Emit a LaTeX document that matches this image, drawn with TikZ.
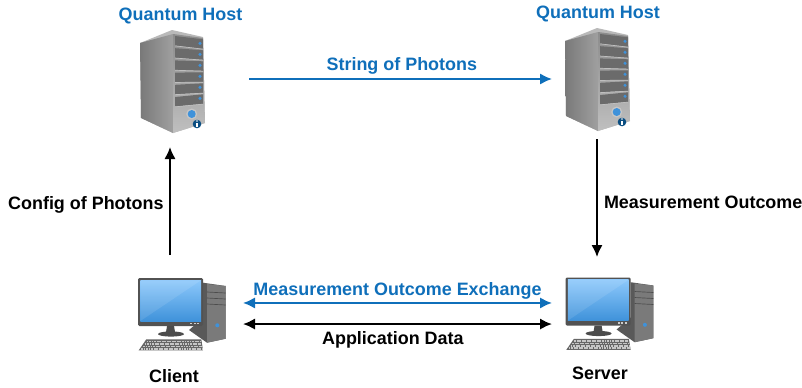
\documentclass[tikz,border=0pt]{standalone}
\usepackage{fontspec}
\setmainfont{Liberation Sans}
\usetikzlibrary{arrows.meta}

\definecolor{qblue}{HTML}{0F6FBA}
\definecolor{screentop}{HTML}{8CC8FB}
\definecolor{screenbottom}{HTML}{3F92DA}
\tikzset{
  spot/.style={inner sep=0pt, outer sep=0pt},
  title/.style={font=\bfseries\fontsize{13.45}{15}\selectfont, text=qblue},
  caption/.style={font=\bfseries\fontsize{13.45}{15}\selectfont, text=black},
  blackline/.style={draw=black, line width=1.5pt, -{Latex[length=9pt,width=8.5pt]}},
  blueline/.style={draw=qblue, line width=1.5pt, -{Latex[length=9pt,width=8.5pt]}},
  tower/.pic={
    \fill[gray!55] (0,0) -- (31,7) -- (33,93) -- (1,103) -- (-31,88) -- (-32,13) -- cycle;
    \shade[left color=gray!95!black, right color=gray!75] (1,4) -- (-32,13) -- (-31,88) -- (1,103) -- cycle;
    \shade[top color=gray!90, bottom color=gray!50] (1,4) -- (31,8) -- (33,93) -- (1,103) -- cycle;
    \foreach \i in {0,...,5} {
      \fill[black!58] (3,6+12.2*\i) -- (31,9.3+11*\i) -- (31,18.8+11*\i) -- (3,15.5+12.2*\i) -- cycle;
      \fill[black!25] (3,15.5+12.2*\i) -- (31,18.8+11*\i) -- (31,19.5+11*\i) -- (3,16.2+12.2*\i) -- cycle;
      \fill[screenbottom] (28,13.3+11*\i) circle (1.7);
    }
    \fill[gray!45] (19.7,84) circle (5.5);
    \fill[screenbottom] (19.7,84) circle (4);
    \fill[qblue!70!black] (25,94) circle (4.3);
    \fill[white] (24.3,93) rectangle (25.8,97);
    \fill[white] (25,91) circle (0.9);
  },
  desktop/.pic={
    % computer case
    \fill[black!65] (65,4.7) -- (87.7,8) -- (87.7,60.7) -- (69,64.7) -- (51,52) -- (65,40) -- cycle;
    \fill[black!52] (69,6) -- (87.7,8) -- (87.7,60.7) -- (69,64.7) -- cycle;
    \foreach \i in {14,20,26} {
      \draw[black!70, line width=0.5pt] (69,\i) -- (87.7,\i+1);
    }
    \fill[screenbottom] (79.3,47.3) circle (2);
    % stand
    \fill[black!70] (29,48) -- (36,48) -- (37,54) -- (28,54) -- cycle;
    \fill[black!70] (33,56) ellipse (13 and 2.6);
    % monitor
    \fill[black!68, rounded corners=1pt] (0,0) rectangle (65,48);
    \shade[top color=screentop, bottom color=screenbottom] (2.3,2.3) rectangle (63,43);
    \fill[white, opacity=0.1] (2.3,2.3) -- (63,2.3) -- (2.3,43) -- cycle;
    \foreach \i in {52,55.5,59} {
      \fill[gray!40] (\i,44.6) rectangle (\i+2.2,46.2);
    }
    % keyboard
    \fill[black!60] (8.3,61.3) -- (63.3,61.3) -- (65,72.3) -- (0.7,72.3) -- cycle;
    \foreach \i/\a/\b in {63.5/8.5/62.5, 66/6.5/63, 68.5/5/63.5, 70.8/3/64} {
      \draw[gray!45, line width=1.3pt, dash pattern=on 1.4pt off 0.5pt] (\a,\i) -- (\b,\i);
    }
  },
}

\begin{document}
\begin{tikzpicture}[x=0.75pt, y=-0.75pt]
\useasboundingbox (0,0) rectangle (802,387);

\pic at (172,30) {tower};
\pic at (597,28) {tower};
\pic at (138,278) {desktop};
\pic at (565.6,277.5) {desktop};

\node[spot, minimum width=118.5pt, minimum height=102pt] (hostA) at (170,79) {};
\node[spot, minimum width=67.5pt, minimum height=90pt] (hostB) at (597,79) {};
\node[spot, minimum width=109.5pt, minimum height=87.75pt] (client) at (170,313.5) {};
\node[spot, minimum width=67.5pt, minimum height=84.75pt] (server) at (597,313.5) {};

\node[title] (hostAname) at (180.5,16) {Quantum Host};
\node[title] (hostBname) at (598,13.5) {Quantum Host};
\node[caption] (clientname) at (174,376) {Client};
\node[caption] (servername) at (600,373) {Server};

\draw
    (hostA) edge[blueline] node[title, above=-0.5pt, xshift=1pt]{String of Photons} (hostB)
    (hostB) edge[blackline] node[caption, right=1.2pt, yshift=-3.5pt]{Measurement Outcome} (server)
    (client) edge[blackline] node[caption, left=0.75pt, yshift=-3.25pt]{Config of Photons} (hostA)
    ([yshift=7.9pt]client.east) edge[blueline, <->, >={Latex[length=9pt,width=8.5pt]}] node[title, above=-1.25pt]{Measurement Outcome Exchange} ([yshift=7.9pt]server.west)
    ([yshift=-7.9pt]client.east) edge[blackline, <->, >={Latex[length=9pt,width=8.5pt]}] node[caption, below=1.75pt, xshift=-3.5pt]{Application Data} ([yshift=-7.9pt]server.west)
    ;
\end{tikzpicture}
\end{document}
